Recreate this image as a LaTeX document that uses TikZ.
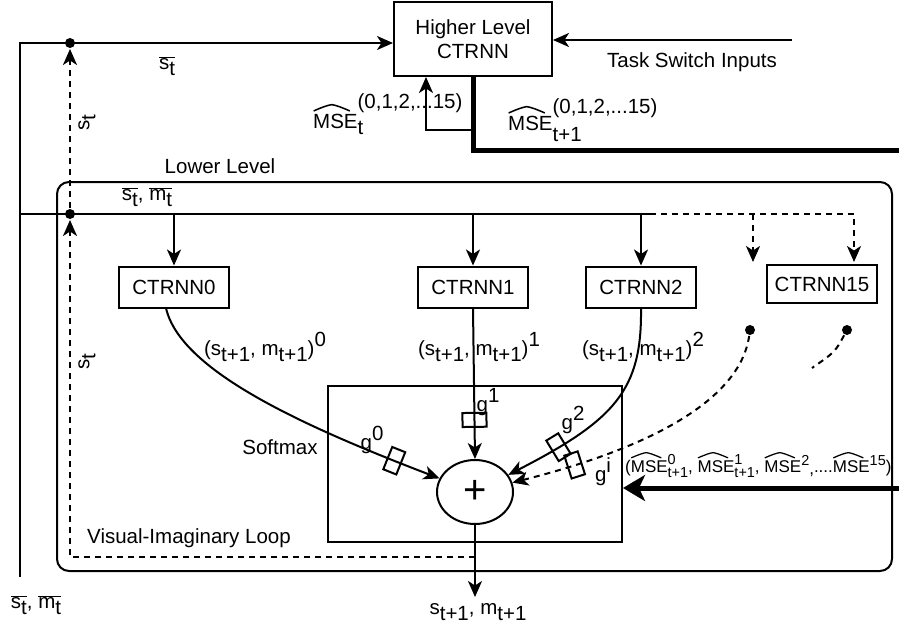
\documentclass[tikz,border=0pt]{standalone}
\usepackage{fontspec}
\setmainfont{Liberation Sans}
\usetikzlibrary{arrows.meta,shapes.geometric,calc}
\newcommand\sbx[1]{\raisebox{-0.3em}{#1}}
\newcommand\spx[1]{\raisebox{0.45em}{#1}}
\newcommand\sbsp[2]{\rlap{\raisebox{0.45em}{\scalebox{0.85}{#2}}}\raisebox{-0.3em}{\scalebox{0.85}{#1}}}
\newcommand\ovl[1]{$\overline{\hbox{#1}}$}
\newlength\hatw
\newlength\hath
\newcommand\hatx[1]{\settowidth\hatw{#1}\settoheight\hath{#1}%
  \rlap{\raisebox{\dimexpr\hath+0.14em\relax}{\tikz[x=\hatw,y=0.1em,line width=0.075em,baseline=0pt,line cap=round,line join=round]
  \draw (0.1,0) .. controls (0.3,1.9) and (0.42,2.8) .. (0.5,3) .. controls (0.58,2.8) and (0.7,1.9) .. (0.9,0);}}#1}
\begin{document}
\begin{tikzpicture}[x=1pt,y=-1pt,line width=2pt,
  font=\fontsize{20.5}{24}\selectfont,
  >={Stealth[length=16pt,width=14pt,inset=4.5pt]},
  box/.style={draw,minimum width=110pt,minimum height=41pt,inner sep=0pt},
  gate/.style={draw,solid,line width=2pt,minimum width=14pt,minimum height=24pt,inner sep=0pt,sloped},
  dot/.style={circle,fill,inner sep=0pt,minimum size=10pt},
  dsh/.style={dash pattern=on 6pt off 5pt},
  fat/.style={line width=5pt},
  lbl/.style={inner sep=0pt}]
\useasboundingbox (0,0) rectangle (899,626);

% containers and blocks
\node[draw,rounded corners=12pt,minimum width=835pt,minimum height=389pt] (lower) at (474.5,376.5) {};
\node[draw,minimum width=158pt,minimum height=74pt,align=center,inner sep=0pt] (hl) at (473,39) {Higher Level\\CTRNN};
\node[box] (c0) at (174,287) {CTRNN0};
\node[box] (c1) at (473,287) {CTRNN1};
\node[box] (c2) at (641,287) {CTRNN2};
\node[box,minimum height=38pt] (c15) at (822,284) {CTRNN15};
\node[draw,minimum width=294pt,minimum height=156pt] (soft) at (475,464) {};
\node[draw,ellipse,minimum width=76pt,minimum height=64pt,inner sep=0pt] (plus) at (475,492) {\fontsize{40}{40}\selectfont +};

% coordinates and dots
\coordinate (tl) at (20,43);
\coordinate (bl) at (20,577);
\coordinate (ml) at (20,214);
\coordinate (mr) at (650,214);
\coordinate (dr) at (854,214);
\coordinate (da) at (753,262);
\coordinate (db) at (854,262);
\coordinate (ts) at (792,40);
\coordinate (k2) at (899,150);
\coordinate (f1) at (426,130);
\coordinate (k3) at (899,488);
\coordinate (lp) at (70,557);
\coordinate (out) at (475,597);
\coordinate (c0s) at (166,308);
\coordinate (de) at (812,368);
\node[dot] (d1) at (70,43) {};
\node[dot] (d2) at (70,214) {};
\node[dot] (dA) at (750,330) {};
\node[dot] (dB) at (847,330) {};

% top level
\draw[->] (bl) -- (tl) -- (tl -| hl.west);
\draw[->] (ts) -- (ts -| hl.east);
\draw[fat] (hl.south) -- (hl.south |- k2) -- (k2);
\draw[->] (hl.south |- f1) -- (f1) -- (f1 |- hl.south);

% distribution bus
\draw (ml) -- (mr);
\draw[->] (c0.north |- ml) -- (c0.north);
\draw[->] (c1.north |- ml) -- (c1.north);
\draw[->] (c2.north |- ml) -- (c2.north);
\draw[dsh,->] (mr) -- (dr) -- (db);
\draw[dsh,->] (da |- mr) -- (da);

% loop
\draw[dsh,->] (plus.south |- lp) -- (lp) -- (d2.south);
\draw[dsh,->] (d2) -- (d1.south);

% experts to sum
\draw[->] (c0s) .. controls (180,370) and (300,425) .. (plus) node[gate,pos=0.89] (g0) {};
\draw[->] (c1.south) -- (plus.north) node[gate,pos=0.74] (g1) {};
\draw[->] (c2.south) .. controls (642,390) and (615,420) .. (plus) node[gate,pos=0.82] (g2) {};
\draw[dsh,->] (dA) .. controls (740,400) and (650,448) .. (plus) node[gate,pos=0.84] (gi) {};
\draw[dsh] (dB) .. controls (835,352) .. (de);
\draw[->] (plus.south) -- (out);
\draw[fat,-{Stealth[length=22pt,width=26pt,inset=6pt]}] (k3) -- (k3 -| soft.east);

% labels
\node[lbl] (lst) at (167,66) {\ovl{s\sbx{t}}};
\node[lbl,rotate=90] (ls1) at (87,123) {s\sbx{t}};
\node[lbl,rotate=90] (ls2) at (87,362) {s\sbx{t}};
\node[lbl] (llow) at (220,166) {Lower Level};
\node[lbl] (lsm) at (147,197) {\ovl{s\sbx{t}}, \ovl{m\sbx{t}}};
\node[lbl,anchor=base west] (lmse1) at (313,128) {\hatx{MSE}\rlap{\raisebox{0.95em}{(0,1,2,...15)}}\raisebox{-0.3em}{t}};
\node[lbl,anchor=base west] (lmse2) at (508,130) {\hatx{MSE}\rlap{\raisebox{0.8em}{(0,1,2,...15)}}\raisebox{-0.55em}{t+1}};
\node[lbl] (lts) at (692,62) {Task Switch Inputs};
\node[lbl] (lo0) at (265,347) {(s\sbx{t+1}, m\sbx{t+1})\spx{0}};
\node[lbl] (lo1) at (479,347) {(s\sbx{t+1}, m\sbx{t+1})\spx{1}};
\node[lbl] (lo2) at (643,347) {(s\sbx{t+1}, m\sbx{t+1})\spx{2}};
\node[lbl] (lg0) at (372,440) {g\spx{0}};
\node[lbl] (lg1) at (488,402) {g\spx{1}};
\node[lbl] (lg2) at (573,420) {g\spx{2}};
\node[lbl] (lgi) at (603,472) {g\spx{i}};
\node[lbl] (lsoft) at (280,447) {Softmax};
\node[lbl] (lvil) at (189,538) {Visual-Imaginary Loop};
\node[lbl] (lout) at (478,612) {s\sbx{t+1}, m\sbx{t+1}};
\node[lbl] (lin) at (36,605) {\ovl{s\sbx{t}}, \ovl{m\sbx{t}}};
\node[lbl,anchor=base west,font=\fontsize{17}{19}\selectfont] (lmsev) at (625,472)
  {(\hatx{MSE}\sbsp{t+1}{0}, \hatx{MSE}\sbsp{t+1}{1}, \hatx{MSE}\raisebox{0.4em}{\scalebox{0.85}{2}}\raisebox{-0.15em}{,}....\hatx{MSE}\raisebox{0.4em}{\scalebox{0.85}{15}})};
\end{tikzpicture}
\end{document}
